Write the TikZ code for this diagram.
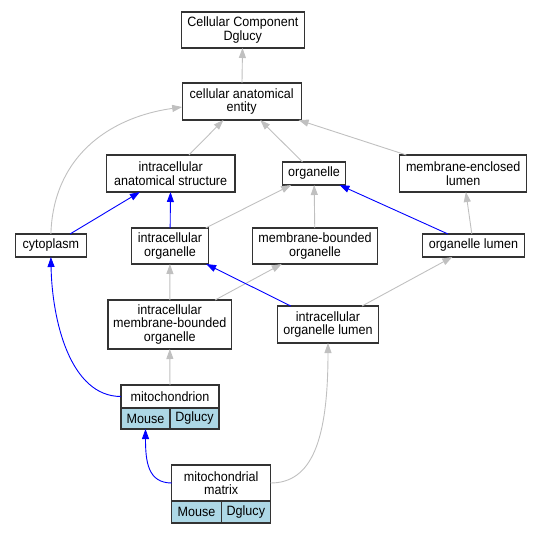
\documentclass[tikz,border=0pt]{standalone}
\usepackage{fontspec}
\setmainfont{Liberation Sans}[FakeStretch=0.93]
\usetikzlibrary{arrows.meta}
\definecolor{edgegray}{HTML}{C0C0C0}
\definecolor{cellblue}{HTML}{ADD8E6}
\begin{document}
\begin{tikzpicture}[x=1pt,y=-1pt,
  box/.style={draw=black!80, line width=1.1pt, fill=white, inner sep=0pt, outer sep=0pt, align=center, font=\fontsize{13.5}{13.4}\selectfont},
  cell/.style={box, fill=cellblue},
  isa/.style={draw=edgegray, line width=0.9pt, -{Triangle[length=10pt,width=7pt]}},
  partof/.style={draw=blue, line width=0.9pt, -{Triangle[length=10pt,width=7pt]}}]
\useasboundingbox (0,0) rectangle (541,533);
\node[box, minimum width=123.2pt, minimum height=36pt] (ccd) at (242.8,30) {Cellular Component\\Dglucy};
\node[box, minimum width=119pt, minimum height=37pt] (cae) at (241.7,101.5) {cellular anatomical\\entity};
\node[box, minimum width=128.7pt, minimum height=37pt] (ias) at (170.65,173.5) {intracellular\\anatomical structure};
\node[box, minimum width=62.8pt, minimum height=23pt] (org) at (314,173.5) {organelle};
\node[box, minimum width=127.3pt, minimum height=37pt] (mel) at (463.25,173.5) {membrane-enclosed\\lumen};
\node[box, minimum width=70.8pt, minimum height=23pt] (cyto) at (50.9,245.5) {cytoplasm};
\node[box, minimum width=76.3pt, minimum height=36pt] (io) at (170,246) {intracellular\\organelle};
\node[box, minimum width=124.3pt, minimum height=36pt] (mbo) at (315,246) {membrane-bounded\\organelle};
\node[box, minimum width=101.5pt, minimum height=23pt] (ol) at (473.45,245.5) {organelle lumen};
\node[box, minimum width=123.5pt, minimum height=49pt] (imbo) at (169.75,324.5) {intracellular\\membrane-bounded\\organelle};
\node[box, minimum width=101.1pt, minimum height=37pt] (iol) at (328,324.5) {intracellular\\organelle lumen};
\node[box, minimum width=98pt, minimum height=23pt] (mito) at (170,396.5) {mitochondrion};
\node[cell, minimum width=49pt, minimum height=21pt] (mitoA) at (145.5,418.5) {Mouse};
\node[cell, minimum width=49pt, minimum height=21pt] (mitoB) at (194.5,418.5) {Dglucy};
\node[box, minimum width=98.7pt, minimum height=36pt] (mm) at (221.15,483) {mitochondrial\\matrix};
\node[cell, minimum width=49.4pt, minimum height=22pt] (mmA) at (196.5,512) {Mouse};
\node[cell, minimum width=49.3pt, minimum height=22pt] (mmB) at (245.85,512) {Dglucy};

\draw[isa] (cae) -- (ccd);
\draw[isa] (ias) -- (cae);
\draw[isa] (org) -- (cae);
\draw[isa] (mel) -- (cae);
\draw[isa] (cyto.north) .. controls (53,160) and (105,118) .. ([yshift=-5.5pt]cae.west);
\draw[partof] (cyto) -- (ias);
\draw[partof] (io) -- (ias);
\draw[isa] (io) -- (org);
\draw[isa] (mbo) -- (org);
\draw[partof] (ol) -- (org);
\draw[isa] (ol) -- (mel);
\draw[isa] (imbo) -- (io);
\draw[isa] (imbo) -- (mbo);
\draw[partof] (iol) -- (io);
\draw[isa] (iol) -- (ol);
\draw[isa] (mito) -- (imbo);
\draw[partof] (mito.west) .. controls (70,396.5) and (52,320) .. (cyto.south);
\draw[partof] (mm.west) .. controls (148,483) and (145.5,462) .. (mitoA.south);
\draw[isa] (mm.east) .. controls (312,483) and (328,440) .. (iol.south);
\end{tikzpicture}
\end{document}
